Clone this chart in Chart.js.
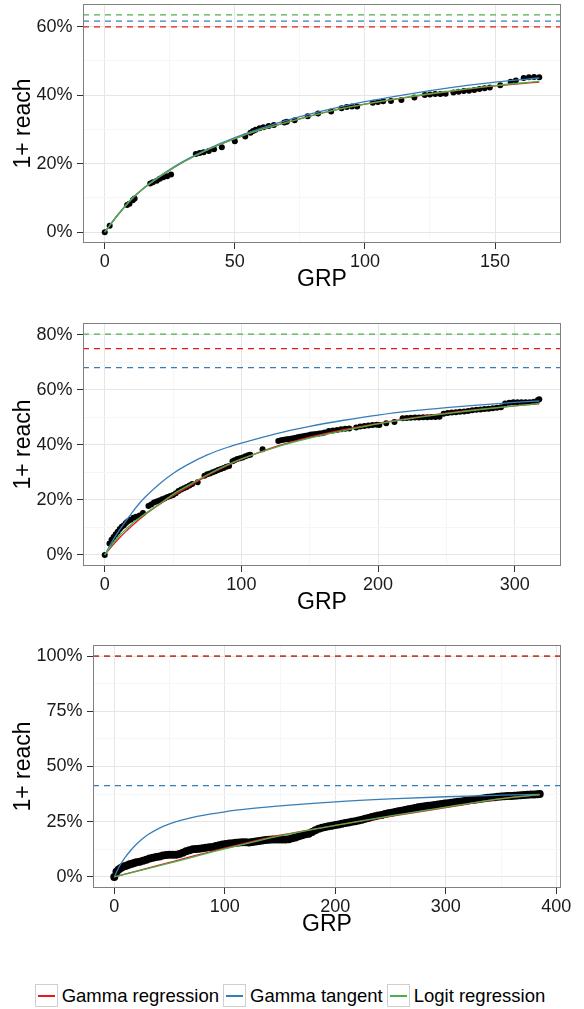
<!DOCTYPE html>
<html>
<head>
<meta charset="utf-8">
<script src="https://cdn.jsdelivr.net/npm/chart.js@4.4.1/dist/chart.umd.min.js"></script>
<style>
  body { margin: 0; background: #fff; width: 584px; height: 1009px; position: relative; overflow: hidden;
         font-family: "Liberation Sans", Arial, Helvetica, sans-serif; }
  canvas { position: absolute; left: 0; }
  #legend { position: absolute; top: 984px; left: 0; width: 584px; height: 23px; display: flex;
            justify-content: center; align-items: center; font-size: 18.5px; color: #000; }
  .key { width: 21px; height: 21px; border: 1px solid #cfcfcf; position: relative; margin-right: 4px; }
  .key span { position: absolute; left: 2px; right: 2px; top: 10px; height: 1.5px; }
  .item { display: flex; align-items: center; margin-right: 4px; white-space: nowrap; }
</style>
</head>
<body>
<canvas id="p1" width="584" height="300" style="top:0"></canvas>
<canvas id="p2" width="584" height="323" style="top:300px"></canvas>
<canvas id="p3" width="584" height="323" style="top:622px"></canvas>
<div id="legend"></div>
<script>
// ---- panel 1 ----
const p1Grp   = [0, 1.9, 8.6, 9.5, 10.8, 11.5, 17.5, 18.5, 20, 21.2, 22.5, 24, 25.5, 35, 36.5, 38, 40, 42, 45,
                 50, 54, 56, 57, 58, 59.5, 61, 63, 65, 69, 70, 73, 78, 82, 87, 91, 93, 95, 97, 103, 105, 107, 110,
                 114, 119, 123, 125, 127, 129, 131, 134, 136, 138, 140, 142, 144, 146, 148, 152, 156, 158, 161, 163, 165, 167];
const p1Reach = [0, 1.9, 7.9, 8.3, 9.3, 9.8, 14.2, 14.6, 15, 15.6, 16, 16.3, 16.8, 22.8, 23.1, 23.3, 23.7, 24.2, 24.8,
                 26.5, 27.9, 29, 29.5, 29.9, 30.3, 30.6, 31, 31.3, 32, 32.2, 32.7, 33.8, 34.6, 35.2, 36.2, 36.5, 36.7, 36.7, 37.8, 38, 38.2, 38.3,
                 38.6, 39.3, 40, 40.2, 40.3, 40.3, 40.4, 40.8, 41, 41.2, 41.3, 41.5, 41.8, 42, 42.2, 42.9, 43.9, 44.3, 45, 45.2, 45.3, 45.2];
const p1FitGrp  = [0, 5, 10, 15, 20, 25, 30, 40, 50, 60, 75, 90, 100, 115, 125, 140, 150, 167];
const p1Gamma   = [0, 5, 9.4, 12.8, 15.6, 18.1, 20.4, 24.2, 27.3, 29.9, 33.1, 35.9, 37.4, 39.2, 40.3, 41.8, 42.7, 43.8];
const p1Tangent = [0, 5, 9.4, 12.9, 15.8, 18.3, 20.6, 24.4, 27.6, 30.3, 33.7, 36.5, 38.1, 40.1, 41.3, 42.9, 43.8, 45.0];
const p1Logit   = [0, 5, 9.4, 12.8, 15.6, 18.1, 20.4, 24.2, 27.3, 29.9, 33.1, 35.9, 37.4, 39.3, 40.4, 41.9, 42.8, 44.0];
const p1Limits  = { gamma: 59.9, tangent: 61.6, logit: 63.4 };
const p1XTicks = [0, 50, 100, 150],   p1XMinor = [25, 75, 125, 175];
const p1YTicks = [0, 20, 40, 60],     p1YMinor = [10, 30, 50];
const p1XRange = [-8.35, 175.35],     p1YRange = [-3.17, 66.6];

// ---- panel 2 ----
const p2Grp   = [0, 3.5, 5, 6.5, 8, 9.5, 11, 12.5, 14, 15.5, 17, 19, 21, 23, 25.5, 28, 32, 34, 36, 38, 40, 42, 44, 46, 48,
                 50, 52, 54, 56, 58, 60, 62, 64, 68, 73, 75, 77, 79, 81, 83, 85, 87, 89, 91, 93.5, 95, 97, 99, 101, 103, 105,
                 106.5, 115.5, 127, 129, 131, 133, 135, 137, 139, 141, 143, 145, 147, 149, 151, 153, 155, 157, 159, 161, 164,
                 167, 170, 173, 176, 179, 184, 187, 190, 193, 196, 199, 201, 206, 212, 218, 221, 224, 227, 230, 233, 236, 239,
                 242, 245, 248, 251, 254, 257, 260, 263, 266, 269, 272, 275, 278, 281, 284, 287, 290, 293, 296, 299, 302, 305,
                 308, 311, 314, 317, 318];
const p2Reach = [0, 4.2, 5.5, 6.5, 7.5, 8.4, 9.4, 10.2, 10.8, 11.6, 12.2, 12.8, 13.5, 13.9, 14.3, 15.2, 17.8, 18.3, 19, 19.4, 19.8, 20.2, 20.6, 21, 21.4,
                 21.8, 22.4, 23.2, 23.8, 24.2, 24.7, 25.2, 25.8, 26.4, 28.8, 29.3, 29.6, 30, 30.4, 30.8, 31.2, 31.6, 32, 32.3, 34, 34.4, 34.8, 35.1, 35.4, 35.8, 36.2,
                 36.4, 38.4, 41.4, 41.6, 41.8, 42, 42.1, 42.3, 42.5, 42.7, 42.9, 43.1, 43.3, 43.5, 43.7, 43.8, 43.9, 44.1, 44.2, 44.5, 45,
                 45.2, 45.4, 45.6, 45.8, 45.9, 46.3, 46.6, 46.8, 47, 47.2, 47.3, 47.2, 47.8, 48.3, 49.6, 49.7, 49.8, 49.9, 49.9, 50, 50, 50.1,
                 50.1, 50.2, 51.3, 51.5, 51.7, 51.8, 52, 52.1, 52.3, 52.5, 52.7, 52.8, 53, 53.1, 53.3, 53.4, 53.6, 55, 55.3, 55.4, 55.4, 55.4,
                 55.4, 55.4, 55.6, 56.3, 56.5];
const p2FitGrp  = [0, 5, 10, 15, 20, 25, 30, 40, 50, 60, 75, 90, 100, 125, 150, 175, 200, 225, 250, 275, 300, 318];
const p2Gamma   = [0, 3.0, 5.8, 8.3, 10.6, 12.8, 14.8, 18.3, 21.5, 24.4, 28.8, 32.5, 34.7, 39.3, 42.8, 45.5, 47.8, 49.8, 51.5, 52.9, 54.1, 54.9];
const p2Tangent = [0, 4.5, 8.5, 12.0, 15.4, 18.5, 21.2, 25.8, 29.6, 32.6, 36.3, 39.1, 40.6, 44.0, 46.7, 48.9, 50.8, 52.3, 53.5, 54.5, 55.4, 55.9];
const p2Logit   = [0, 3.6, 6.6, 9.1, 11.3, 13.3, 15.1, 18.5, 22.0, 24.9, 29.1, 32.8, 34.9, 39.1, 42.4, 45.1, 47.6, 49.6, 51.3, 52.8, 54.1, 55.0];
const p2Limits  = { gamma: 74.9, tangent: 68.0, logit: 80.2 };
const p2XTicks = [0, 100, 200, 300],        p2XMinor = [50, 150, 250];
const p2YTicks = [0, 20, 40, 60, 80],       p2YMinor = [10, 30, 50, 70];
const p2XRange = [-15.9, 333.9],            p2YRange = [-4.01, 84.21];

// ---- panel 3 ----
const p3Grp   = [0, 2, 4, 6, 8, 10, 12, 14, 16, 18, 20, 23, 26, 29, 32, 35, 38, 41, 44, 47, 50, 53, 56, 59, 62, 65, 68, 71, 74,
                 77, 80, 83, 86, 89, 92, 95, 98, 101, 104, 107, 110, 113, 116, 119, 122, 125, 128, 131, 134, 137, 140, 143,
                 146, 149, 152, 155, 158, 161, 164, 167, 170, 173, 176, 179, 182, 185, 188, 191, 194, 197, 200, 203, 206,
                 209, 212, 215, 218, 221, 224, 227, 230, 233, 236, 239, 242, 245, 248, 251, 254, 257, 260, 263, 266, 269,
                 272, 275, 278, 281, 284, 287, 290, 293, 296, 299, 302, 305, 308, 311, 314, 317, 320, 323, 326, 329, 332,
                 335, 338, 341, 344, 347, 350, 353, 356, 359, 362, 365, 368, 371, 374, 377, 380, 383, 385];
const p3Reach = [0, 2.4, 3.4, 4.1, 4.6, 5, 5.3, 5.7, 6, 6.3, 6.6, 6.9, 7.3, 7.8, 8.3, 8.7, 9, 9.3, 9.7, 9.9, 10, 10, 10, 10.4, 11, 11.6, 12.1, 12.5, 12.6,
                 12.8, 13, 13.2, 13.4, 13.6, 14, 14.4, 14.7, 14.9, 15.1, 15.3, 15.5, 15.6, 15.7, 15.7, 15.6, 15.8, 16, 16.3, 16.5, 16.7, 16.8, 16.9,
                 17, 17, 17, 17, 17.1, 17.5, 17.9, 18.4, 18.9, 19.3, 19.6, 20.4, 21.1, 21.8, 22.3, 22.6, 22.9, 23.2, 23.5, 23.8, 24.1,
                 24.4, 24.7, 25, 25.2, 25.5, 25.9, 26.3, 26.7, 27.1, 27.5, 27.8, 28.1, 28.5, 28.8, 29.1, 29.4, 29.7, 30, 30.3, 30.6, 30.9,
                 31.2, 31.5, 31.8, 32, 32.2, 32.4, 32.6, 32.8, 33, 33.2, 33.4, 33.6, 33.8, 34, 34.2, 34.4, 34.6, 34.8, 35, 35.2, 35.4,
                 35.6, 35.8, 36, 36.1, 36.3, 36.4, 36.5, 36.6, 36.7, 36.8, 36.9, 37, 37.1, 37.2, 37.3, 37.3, 37.4, 37.5, 37.5];
const p3TanGrp  = [0, 5, 10, 15, 20, 25, 30, 40, 50, 60, 75, 100, 125, 150, 200, 250, 300, 350, 385];
const p3Tangent = [0, 5.2, 9.0, 12.1, 14.8, 17.1, 19.0, 21.9, 24.0, 25.6, 27.4, 29.5, 31.0, 32.2, 34.0, 35.3, 36.3, 37.0, 37.4];
const p3FitGrp  = [0, 50, 100, 150, 200, 250, 300, 350, 385];
const p3Gamma   = [0, 6.6, 13.0, 18.9, 23.3, 27.4, 31.4, 35.4, 37.2];
const p3Logit   = [0, 6.3, 12.7, 18.6, 23.3, 27.6, 31.6, 35.5, 37.3];
const p3Limits  = { gamma: 100, tangent: 41.3, logit: 100 };
const p3XTicks = [0, 100, 200, 300, 400],   p3XMinor = [50, 150, 250, 350];
const p3YTicks = [0, 25, 50, 75, 100],      p3YMinor = [12.5, 37.5, 62.5, 87.5];
const p3XRange = [-19.25, 404.25],          p3YRange = [-5, 105];

const seriesNames = ['Gamma regression', 'Gamma tangent', 'Logit regression'];
const COLORS = { gamma: '#E41A1C', tangent: '#377EB8', logit: '#4DAF4A' };
const FONT = '"Liberation Sans", Arial, Helvetica, sans-serif';

Chart.defaults.font.family = FONT;
Chart.defaults.animation = false;

const zip = (xs, ys) => xs.map((x, i) => ({ x, y: ys[i] }));

// grey frame around the plotting area (ggplot theme_bw panel border)
const panelBorder = {
  id: 'panelBorder',
  afterDraw(chart) {
    const { ctx, chartArea: a } = chart;
    ctx.save();
    ctx.strokeStyle = '#808080';
    ctx.lineWidth = 1;
    ctx.strokeRect(a.left + 0.5, a.top + 0.5, a.right - a.left - 1, a.bottom - a.top - 1);
    ctx.restore();
  }
};

function curve(xs, ys, color, order) {
  return { data: zip(xs, ys), showLine: true, borderColor: color, borderWidth: 1.3,
           pointRadius: 0, cubicInterpolationMode: 'monotone', order };
}

function asymptote(v, xr, color, order) {
  return { data: [{ x: xr[0], y: v }, { x: xr[1], y: v }], showLine: true, borderColor: color,
           borderWidth: 1.3, borderDash: [6, 5], pointRadius: 0, order };
}

function axis(range, major, minor, fmt, fit, title, titlePad) {
  const all = major.concat(minor).sort((a, b) => a - b);
  return {
    type: 'linear', min: range[0], max: range[1],
    afterBuildTicks: s => { s.ticks = all.map(v => ({ value: v })); },
    afterFit: fit,
    ticks: { callback: v => major.includes(v) ? fmt(v) : '', font: { size: 18 }, color: '#1a1a1a',
             padding: titlePad.tick, autoSkip: false, maxRotation: 0 },
    grid: {
      color: c => major.includes(c.tick.value) ? '#e6e6e6' : '#f6f6f6',
      tickColor: c => major.includes(c.tick.value) ? '#333' : 'rgba(0,0,0,0)',
      tickLength: 6, lineWidth: 1
    },
    border: { display: false },
    title: { display: true, text: title, font: { size: 23 }, color: '#000', padding: titlePad.title }
  };
}

function panel(id, p) {
  const datasets = [
    asymptote(p.limits.logit, p.xRange, COLORS.logit, 6),
    asymptote(p.limits.tangent, p.xRange, COLORS.tangent, 5),
    asymptote(p.limits.gamma, p.xRange, COLORS.gamma, 4),
    { data: zip(p.grp, p.reach), pointRadius: p.dot, pointBackgroundColor: '#000',
      pointBorderWidth: 0, showLine: false, order: 3 },
    curve(p.gammaGrp, p.gamma, COLORS.gamma, 2),
    curve(p.tanGrp, p.tangent, COLORS.tangent, 1),
    curve(p.logitGrp, p.logit, COLORS.logit, 0)
  ];
  new Chart(document.getElementById(id), {
    type: 'scatter',
    data: { datasets },
    options: {
      responsive: false,
      layout: { padding: { top: p.padTop, right: 23, left: 0, bottom: 0 } },
      plugins: { legend: { display: false }, tooltip: { enabled: false } },
      scales: {
        x: axis(p.xRange, p.xTicks, p.xMinor, v => String(v),
                s => { s.height = 57; s.paddingLeft = 0; s.paddingRight = 0; },
                'GRP', { tick: 2, title: { top: 0, bottom: 6.5 } }),
        y: axis(p.yRange, p.yTicks, p.yMinor, v => v + '%',
                s => { s.width = p.left; s.paddingTop = 0; s.paddingBottom = 0; },
                '1+ reach', { tick: 4.5, title: { top: 10, bottom: 0 } })
      }
    },
    plugins: [panelBorder]
  });
}

panel('p1', { grp: p1Grp, reach: p1Reach, dot: 3,
  gammaGrp: p1FitGrp, gamma: p1Gamma, tanGrp: p1FitGrp, tangent: p1Tangent, logitGrp: p1FitGrp, logit: p1Logit,
  limits: p1Limits, xTicks: p1XTicks, xMinor: p1XMinor, yTicks: p1YTicks, yMinor: p1YMinor,
  xRange: p1XRange, yRange: p1YRange, left: 83, padTop: 0 });

panel('p2', { grp: p2Grp, reach: p2Reach, dot: 3,
  gammaGrp: p2FitGrp, gamma: p2Gamma, tanGrp: p2FitGrp, tangent: p2Tangent, logitGrp: p2FitGrp, logit: p2Logit,
  limits: p2Limits, xTicks: p2XTicks, xMinor: p2XMinor, yTicks: p2YTicks, yMinor: p2YMinor,
  xRange: p2XRange, yRange: p2YRange, left: 83, padTop: 23 });

panel('p3', { grp: p3Grp, reach: p3Reach, dot: 4,
  gammaGrp: p3FitGrp, gamma: p3Gamma, tanGrp: p3TanGrp, tangent: p3Tangent, logitGrp: p3FitGrp, logit: p3Logit,
  limits: p3Limits, xTicks: p3XTicks, xMinor: p3XMinor, yTicks: p3YTicks, yMinor: p3YMinor,
  xRange: p3XRange, yRange: p3YRange, left: 93, padTop: 23 });

// shared legend below the panels
const legend = document.getElementById('legend');
[COLORS.gamma, COLORS.tangent, COLORS.logit].forEach((c, i) => {
  const item = document.createElement('div');
  item.className = 'item';
  item.innerHTML = '<div class="key"><span style="background:' + c + '"></span></div>' + seriesNames[i];
  legend.appendChild(item);
});
</script>
</body>
</html>
